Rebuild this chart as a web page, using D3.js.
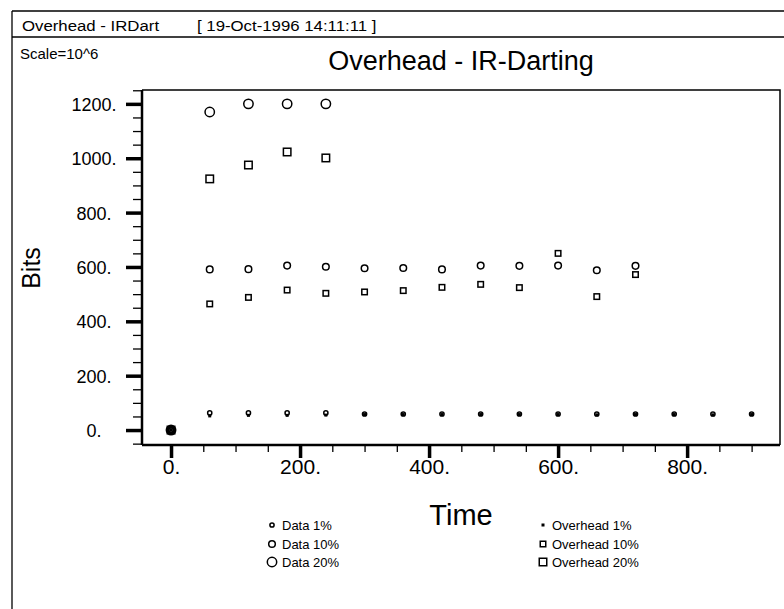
<!DOCTYPE html>
<html>
<head>
<meta charset="utf-8">
<script src="https://cdn.jsdelivr.net/npm/d3@7/dist/d3.min.js"></script>
<style>
body { margin: 0; background: #fff; }
svg { display: block; font-family: 'Liberation Sans', Arial, sans-serif; }
</style>
</head>
<body>
<svg id="chart" width="784" height="609"></svg>
<script>
// values (Bits, scale 10^6)
var times = [0, 60, 120, 180, 240, 300, 360, 420, 480, 540, 600, 660, 720, 780, 840, 900];
var data1 = [0, 63, 63, 63, 63, 59, 59, 59, 59, 59, 59, 59, 59, 59, 59, 59];
var over1 = [0, 52, 54, 54, 55, 57, 57, 57, 57, 57, 57, 56, 57, 57, 56, 57];
var data10 = [0, 591, 592, 605, 601, 595, 596, 591, 605, 604, 605, 588, 604];
var over10 = [0, 464, 488, 515, 503, 508, 513, 525, 536, 524, 650, 491, 572];
var data20 = [0, 1170, 1200, 1200, 1200];
var over20 = [0, 924, 975, 1023, 1001];

var xTicks = [0, 200, 400, 600, 800];
var yTicks = [0, 200, 400, 600, 800, 1000, 1200];
var legendLeft = ['Data 1%', 'Data 10%', 'Data 20%'];
var legendRight = ['Overhead 1%', 'Overhead 10%', 'Overhead 20%'];

var series = [
	{ name: legendLeft[0], values: data1, shape: 'circle', size: 2.1 },
	{ name: legendLeft[1], values: data10, shape: 'circle', size: 3.3 },
	{ name: legendLeft[2], values: data20, shape: 'circle', size: 4.7 },
	{ name: legendRight[0], values: over1, shape: 'dot', size: 3 },
	{ name: legendRight[1], values: over10, shape: 'square', size: 5.5 },
	{ name: legendRight[2], values: over20, shape: 'square', size: 7.5 }
];

var svg = d3.select('#chart');

var plot = { left: 142, top: 90, right: 780, bottom: 445 };

var x = d3.scaleLinear().domain([ -45, 944 ]).range([ plot.left, plot.right ]);
var y = d3.scaleLinear().domain([ -55, 1251 ]).range([ plot.bottom, plot.top ]);

// outer page frame
svg.append('line').attr('x1', 12).attr('x2', 784).attr('y1', 11).attr('y2', 11)
	.attr('stroke', '#000').attr('stroke-width', 1.3);
svg.append('line').attr('x1', 12).attr('x2', 784).attr('y1', 37).attr('y2', 37)
	.attr('stroke', '#000').attr('stroke-width', 1.3);
svg.append('line').attr('x1', 12).attr('x2', 12).attr('y1', 11).attr('y2', 609)
	.attr('stroke', '#000').attr('stroke-width', 1.3);

svg.append('text').attr('x', 22).attr('y', 31).attr('font-size', 15)
	.attr('transform', 'translate(22,0) scale(1.12,1) translate(-22,0)')
	.text('Overhead - IRDart');
svg.append('text').attr('x', 197).attr('y', 31).attr('font-size', 15)
	.attr('transform', 'translate(197,0) scale(1.12,1) translate(-197,0)')
	.text('[ 19-Oct-1996 14:11:11 ]');
svg.append('text').attr('x', 20).attr('y', 59).attr('font-size', 15).text('Scale=10^6');

svg.append('text').attr('x', 461).attr('y', 70).attr('font-size', 27)
	.attr('text-anchor', 'middle').text('Overhead - IR-Darting');

// plot frame (top and right)
svg.append('path')
	.attr('d', 'M' + plot.left + ',' + plot.top + 'H' + plot.right + 'V' + plot.bottom)
	.attr('fill', 'none').attr('stroke', '#000').attr('stroke-width', 1.5);

// y axis: minor then major ticks
var yMinor = svg.append('g').attr('transform', 'translate(' + plot.left + ',0)')
	.call(d3.axisLeft(y).tickValues(d3.range(-50, 1251, 50)).tickSize(9).tickFormat(''));
yMinor.select('.domain').remove();
yMinor.selectAll('line').attr('stroke-width', 1.3);

var yAxis = svg.append('g').attr('transform', 'translate(' + plot.left + ',0)')
	.call(d3.axisLeft(y).tickValues(yTicks).tickSize(16).tickFormat(function(d) {
		return d + '.';
	}));
yAxis.select('.domain').attr('d', 'M0,' + plot.top + 'V' + plot.bottom).attr('stroke-width', 2.5);
yAxis.selectAll('.tick line').attr('stroke-width', 3.5);
yAxis.selectAll('.tick text')
	.attr('x', -48).attr('text-anchor', 'middle').attr('dy', '0.36em')
	.attr('font-size', 18).attr('font-family', null).attr('fill', '#000');

// x axis
var xMinor = svg.append('g').attr('transform', 'translate(0,' + plot.bottom + ')')
	.call(d3.axisBottom(x).tickValues(d3.range(50, 901, 50)).tickSize(7).tickFormat(''));
xMinor.select('.domain').remove();
xMinor.selectAll('line').attr('stroke-width', 1.3);

var xAxis = svg.append('g').attr('transform', 'translate(0,' + plot.bottom + ')')
	.call(d3.axisBottom(x).tickValues(xTicks).tickSize(13).tickFormat(function(d) {
		return d + '.';
	}));
xAxis.select('.domain').attr('d', 'M' + plot.left + ',0H' + plot.right).attr('stroke-width', 2.5);
xAxis.selectAll('.tick line').attr('stroke-width', 3.5);
xAxis.selectAll('.tick text')
	.attr('y', 29).attr('dy', null)
	.attr('font-size', 21).attr('font-family', null).attr('fill', '#000');

// axis titles
svg.append('text').attr('transform', 'translate(40,268) rotate(-90)')
	.attr('text-anchor', 'middle').attr('font-size', 25).text('Bits');
svg.append('text').attr('x', 461).attr('y', 525)
	.attr('text-anchor', 'middle').attr('font-size', 29).text('Time');

function drawMarker(g, s, cx, cy) {
	if (s.shape == 'circle') {
		g.append('circle').attr('cx', cx).attr('cy', cy).attr('r', s.size)
			.attr('fill', 'none').attr('stroke', '#000').attr('stroke-width', 1.5);
	} else if (s.shape == 'square') {
		g.append('rect').attr('x', cx - s.size / 2).attr('y', cy - s.size / 2)
			.attr('width', s.size).attr('height', s.size)
			.attr('fill', 'none').attr('stroke', '#000').attr('stroke-width', 1.5);
	} else {
		g.append('rect').attr('x', cx - s.size / 2).attr('y', cy - s.size / 2)
			.attr('width', s.size).attr('height', s.size).attr('fill', '#000');
	}
}

// points
var pts = svg.append('g').attr('class', 'points');
series.forEach(function(s) {
	s.values.forEach(function(v, i) {
		drawMarker(pts, s, x(times[i]), y(v));
	});
});

// legend
var legend = svg.append('g').attr('class', 'legend');
var legendRows = [ 525, 544, 562 ];
series.forEach(function(s, i) {
	var col = i < 3 ? 0 : 1;
	var row = i % 3;
	var mx = col == 0 ? 272 : 543;
	drawMarker(legend, s, mx, legendRows[row]);
	legend.append('text')
		.attr('x', col == 0 ? 282 : 552)
		.attr('y', legendRows[row] + 4.5)
		.attr('font-size', 13)
		.text(s.name);
});
</script>
</body>
</html>
